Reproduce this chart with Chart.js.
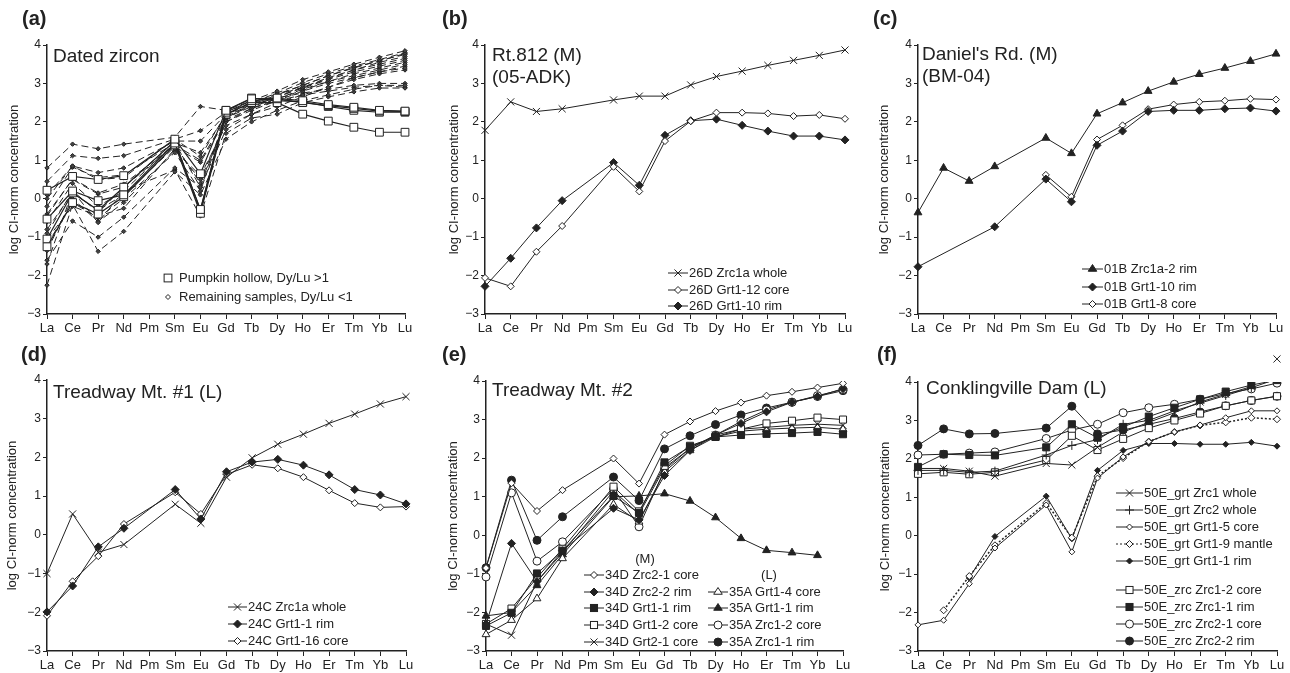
<!DOCTYPE html>
<html>
<head>
<meta charset="utf-8">
<script src="https://cdn.jsdelivr.net/npm/chart.js@4.4.0/dist/chart.umd.min.js"></script>
<style>
body { margin: 0; background: #fff; width: 1290px; height: 673px; position: relative; overflow: hidden;
       font-family: "Liberation Sans", Arial, Helvetica, sans-serif; color: #222; }
canvas { position: absolute; }
.lbl { position: absolute; font-weight: bold; font-size: 20px; line-height: 24px; }
.ttl { position: absolute; font-size: 19px; line-height: 22px; white-space: nowrap; }
.leg { position: absolute; display: flex; align-items: center; font-size: 13px; line-height: 16px; white-space: nowrap; }
.leg svg { flex: none; }
.hdr { position: absolute; font-size: 13px; line-height: 16px; transform: translateX(-50%); }
</style>
</head>
<body>
<canvas id="ca" width="430" height="336" style="left:0;top:0"></canvas>
<canvas id="cb" width="430" height="336" style="left:430px;top:0"></canvas>
<canvas id="cc" width="430" height="336" style="left:860px;top:0"></canvas>
<canvas id="cd" width="430" height="337" style="left:0;top:336px"></canvas>
<canvas id="ce" width="430" height="337" style="left:430px;top:336px"></canvas>
<canvas id="cf" width="430" height="337" style="left:860px;top:336px"></canvas>

<div class="lbl" style="left:22px;top:6px">(a)</div>
<div class="lbl" style="left:442px;top:6px">(b)</div>
<div class="lbl" style="left:873px;top:6px">(c)</div>
<div class="lbl" style="left:21px;top:342px">(d)</div>
<div class="lbl" style="left:442px;top:342px">(e)</div>
<div class="lbl" style="left:877px;top:342px">(f)</div>

<div class="ttl" style="left:53px;top:45px">Dated zircon</div>
<div class="ttl" style="left:492px;top:44px">Rt.812 (M)<br>(05-ADK)</div>
<div class="ttl" style="left:922px;top:43px">Daniel's Rd. (M)<br>(BM-04)</div>
<div class="ttl" style="left:53px;top:381px">Treadway Mt. #1 (L)</div>
<div class="ttl" style="left:492px;top:379px">Treadway Mt. #2</div>
<div class="ttl" style="left:926px;top:377px">Conklingville Dam (L)</div>

<script>
// chondrite-normalised REE, log units; Pm never measured
const elements = ['La', 'Ce', 'Pr', 'Nd', 'Pm', 'Sm', 'Eu', 'Gd', 'Tb', 'Dy', 'Ho', 'Er', 'Tm', 'Yb', 'Lu'];
const yMin = -3;
const yMax = 4;

// (a) dated zircon
const pumpkinHollow = [
  [0.22, 0.58, 0.50, 0.60, null, 1.55, 0.65, 2.30, 2.60, 2.62, 2.55, 2.45, 2.38, 2.30, 2.28],
  [-0.53, 0.20, -0.05, 0.10, null, 1.45, -0.28, 2.25, 2.55, 2.60, 2.50, 2.42, 2.35, 2.28, 2.27],
  [-1.25, -0.10, -0.40, 0.05, null, 1.40, -0.38, 2.20, 2.50, 2.50, 2.20, 2.02, 1.86, 1.73, 1.73],
  [-1.05, 0.15, -0.30, 0.30, null, 1.50, -0.30, 2.30, 2.62, 2.55, 2.52, 2.40, 2.30, 2.25, 2.25]
];
const remainingSamples = [
  [0.80, 1.42, 1.30, 1.42, null, 1.60, 2.40, 2.30, 2.55, 2.80, 3.10, 3.30, 3.50, 3.68, 3.85],
  [0.45, 1.12, 1.05, 1.12, null, 1.55, 1.77, 2.25, 2.50, 2.75, 3.02, 3.25, 3.45, 3.62, 3.80],
  [0.00, 0.85, 0.68, 0.80, null, 1.50, 1.50, 2.20, 2.45, 2.70, 2.95, 3.20, 3.40, 3.60, 3.75],
  [-0.20, 0.82, 0.55, 0.62, null, 1.45, 1.20, 2.15, 2.45, 2.70, 2.90, 3.15, 3.35, 3.55, 3.70],
  [-0.45, 0.52, 0.15, 0.38, null, 1.40, 1.00, 2.10, 2.40, 2.65, 2.88, 3.10, 3.30, 3.45, 3.60],
  [-0.80, 0.15, -0.30, 0.10, null, 1.35, 0.95, 2.05, 2.35, 2.60, 2.85, 3.05, 3.20, 3.35, 3.50],
  [-1.05, -0.20, -0.45, -0.25, null, 1.30, 0.50, 2.00, 2.35, 2.55, 2.80, 3.00, 3.15, 3.30, 3.40],
  [-1.60, -0.58, -1.00, -0.48, null, 0.80, 0.30, 1.80, 2.20, 2.50, 2.70, 2.90, 3.10, 3.25, 3.35],
  [-2.25, -0.15, -1.37, -0.85, null, 0.70, 0.10, 1.55, 2.00, 2.30, 2.55, 2.70, 2.85, 2.95, 2.95],
  [-1.70, 0.20, -0.62, 0.20, null, 0.75, -0.45, 1.70, 2.10, 2.20, 2.50, 2.65, 2.78, 2.88, 2.88],
  [-0.40, 0.50, 0.12, 0.30, null, 1.50, -0.35, 2.20, 2.50, 2.65, 2.90, 3.12, 3.35, 3.50, 3.65],
  [-0.60, 0.40, -0.20, 0.20, null, 1.45, 0.30, 2.15, 2.40, 2.60, 2.82, 3.05, 3.25, 3.40, 3.55],
  [-1.20, -0.10, -0.50, 0.00, null, 1.20, 0.20, 2.10, 2.45, 2.62, 2.75, 2.85, 2.95, 3.00, 3.00],
  [0.10, 0.85, 0.50, 0.55, null, 1.55, 1.10, 2.20, 2.50, 2.72, 2.95, 3.20, 3.42, 3.58, 3.78],
  [-0.90, 0.20, -0.35, 0.30, null, 1.40, 0.40, 2.00, 2.30, 2.55, 2.70, 2.80, 2.90, 2.95, 2.90],
  [-1.35, 0.00, -0.60, -0.10, null, 1.25, 0.60, 1.90, 2.20, 2.40, 2.65, 2.90, 3.15, 3.30, 3.45]
];

// (b) Rt.812
const b_zrc1aWhole = [1.78, 2.52, 2.27, 2.34, null, 2.57, 2.67, 2.67, 2.96, 3.18, 3.32, 3.47, 3.60, 3.73, 3.87];
const b_grt12Core = [-2.06, -2.28, -1.38, -0.71, null, 0.83, 0.19, 1.50, 2.02, 2.24, 2.24, 2.22, 2.15, 2.18, 2.08];
const b_grt10Rim = [-2.28, -1.55, -0.76, -0.05, null, 0.94, 0.35, 1.65, 2.03, 2.07, 1.91, 1.76, 1.63, 1.63, 1.53];

// (c) Daniel's Rd.
const c_zrc1a2Rim = [-0.36, 0.80, 0.46, 0.84, null, 1.58, 1.18, 2.21, 2.50, 2.80, 3.04, 3.24, 3.40, 3.58, 3.77];
const c_grt10Rim = [-1.77, null, null, -0.73, null, 0.51, -0.08, 1.39, 1.76, 2.27, 2.30, 2.30, 2.34, 2.36, 2.28];
const c_grt8Core = [null, null, null, null, null, 0.62, 0.05, 1.54, 1.91, 2.33, 2.45, 2.52, 2.55, 2.60, 2.58];

// (d) Treadway Mt. #1
const d_zrc1aWhole = [-1.00, 0.54, -0.45, -0.25, null, 0.79, 0.30, 1.49, 1.99, 2.34, 2.60, 2.88, 3.12, 3.38, 3.57];
const d_grt1Rim = [-1.99, -1.32, -0.31, 0.17, null, 1.17, 0.41, 1.63, 1.88, 1.95, 1.80, 1.55, 1.17, 1.03, 0.80];
const d_grt16Core = [-2.09, -1.20, -0.55, 0.28, null, 1.10, 0.54, 1.56, 1.81, 1.72, 1.49, 1.15, 0.82, 0.71, 0.73];

// (e) Treadway Mt. #2
const e_34zrc21Core = [-0.85, 1.35, 0.63, 1.17, null, 1.99, 1.34, 2.61, 2.95, 3.22, 3.44, 3.62, 3.72, 3.83, 3.94];
const e_34zrc22Rim = [-2.30, -0.21, -1.20, -0.40, null, 0.70, 0.40, 1.55, 2.20, 2.60, 2.90, 3.20, 3.45, 3.60, 3.80];
const e_34grt11Rim = [-2.35, -2.01, -0.99, -0.40, null, 1.02, 0.58, 1.89, 2.30, 2.55, 2.60, 2.63, 2.65, 2.68, 2.62];
const e_34grt12Core = [-2.30, -1.90, -1.10, -0.35, null, 1.26, 0.62, 1.80, 2.32, 2.55, 2.75, 2.90, 2.97, 3.05, 3.00];
const e_34grt21Core = [-2.30, -2.59, -1.20, -0.45, null, 1.15, 0.55, 1.75, 2.25, 2.60, 2.75, 2.80, 2.85, 2.88, 2.85];
const e_35grt14Core = [-2.57, -2.20, -1.64, -0.60, null, 0.80, 0.35, 1.65, 2.20, 2.55, 2.70, 2.75, 2.78, 2.80, 2.75];
const e_35grt11Rim = [-2.09, -2.00, -1.30, -0.50, null, 1.00, 1.02, 1.08, 0.89, 0.46, -0.08, -0.39, -0.45, -0.52, null];
const e_35zrc12Core = [-1.08, 1.10, -0.67, -0.17, null, 1.20, 0.22, 1.70, 2.25, 2.60, 2.95, 3.25, 3.45, 3.62, 3.78];
const e_35zrc11Rim = [-0.84, 1.43, -0.13, 0.48, null, 1.51, 0.90, 2.24, 2.58, 2.87, 3.12, 3.30, 3.45, 3.60, 3.75];

// (f) Conklingville Dam
const f_grtZrc1Whole = [1.75, 1.75, 1.68, 1.55, null, 1.88, 1.84, 2.30, 2.70, 2.95, 3.20, 3.48, 3.68, 3.88, 4.60];
const f_grtZrc2Whole = [1.70, 1.70, 1.65, 1.68, null, 2.10, 2.35, 2.50, 2.90, 3.00, 3.25, 3.45, 3.65, 3.85, 4.08];
const f_grtGrt15Core = [-2.32, -2.20, -1.25, -0.32, null, 0.80, -0.42, 1.50, 2.05, 2.45, 2.70, 2.88, 3.07, 3.25, 3.25];
const f_grtGrt19Mantle = [null, -1.94, -1.05, -0.25, null, 0.85, -0.05, 1.55, 2.02, 2.45, 2.70, 2.87, 2.95, 3.07, 3.03];
const f_grtGrt11Rim = [null, null, -1.10, -0.02, null, 1.03, -0.08, 1.70, 2.22, 2.40, 2.40, 2.38, 2.38, 2.43, 2.33];
const f_zrcZrc12Core = [1.61, 1.65, 1.60, 1.65, null, 1.97, 2.60, 2.23, 2.52, 2.80, 3.00, 3.18, 3.38, 3.52, 3.63];
const f_zrcZrc11Rim = [1.79, 2.12, 2.10, 2.09, null, 2.30, 2.90, 2.55, 2.83, 3.10, 3.33, 3.55, 3.75, 3.92, 4.05];
const f_zrcZrc21Core = [2.10, 2.12, 2.15, 2.18, null, 2.53, 2.75, 2.90, 3.20, 3.33, 3.42, 3.55, 3.70, 3.82, 3.97];
const f_zrcZrc22Rim = [2.35, 2.78, 2.65, 2.66, null, 2.80, 3.37, 2.65, 2.75, 2.90, 3.05, 3.22, 3.38, 3.52, 3.63];

const INK = '#222';

// marker presets
const openDiamond = { pointStyle: 'rectRot', pointRadius: 3.5, pointBackgroundColor: '#fff' };
const fillDiamond = { pointStyle: 'rectRot', pointRadius: 4, pointBackgroundColor: INK };
const smallDiamond = { pointStyle: 'rectRot', pointRadius: 3, pointBackgroundColor: '#fff' };
const smallFillDiamond = { pointStyle: 'rectRot', pointRadius: 3, pointBackgroundColor: INK };
const xMark = { pointStyle: 'crossRot', pointRadius: 5, pointBackgroundColor: INK };
const plusMark = { pointStyle: 'cross', pointRadius: 4.5, pointBackgroundColor: INK };
const openSquare = { pointStyle: 'rect', pointRadius: 5, pointBackgroundColor: '#fff' };
const fillSquare = { pointStyle: 'rect', pointRadius: 5, pointBackgroundColor: INK };
const openTri = { pointStyle: 'triangle', pointRadius: 4.5, pointBackgroundColor: '#fff' };
const fillTri = { pointStyle: 'triangle', pointRadius: 4.5, pointBackgroundColor: INK };
const openCircle = { pointStyle: 'circle', pointRadius: 4, pointBackgroundColor: '#fff' };
const fillCircle = { pointStyle: 'circle', pointRadius: 4, pointBackgroundColor: INK };

function series(label, data, marker, extra) {
  return Object.assign({
    label: label,
    data: data,
    borderColor: INK,
    borderWidth: 1,
    pointBorderColor: INK,
    pointBorderWidth: 1,
    spanGaps: true,
    tension: 0
  }, marker, extra || {});
}

// Chart.js skips points outside the plot area; draw flagged ones anyway
const offScalePoints = {
  id: 'offScalePoints',
  afterDatasetsDraw(chart) {
    const ctx = chart.ctx;
    const ys = chart.scales.y;
    chart.data.datasets.forEach((ds, i) => {
      if (!ds.showOffScale) return;
      const meta = chart.getDatasetMeta(i);
      meta.data.forEach((pt, j) => {
        const v = ds.data[j];
        if (v == null || v <= ys.max) return;
        ctx.save();
        ctx.strokeStyle = ds.pointBorderColor;
        ctx.fillStyle = ds.pointBackgroundColor;
        ctx.lineWidth = 1;
        Chart.helpers.drawPoint(ctx, { pointStyle: ds.pointStyle, radius: ds.pointRadius, rotation: 0, borderWidth: 1 },
          pt.x, ys.getPixelForValue(v));
        ctx.restore();
      });
    });
  }
};

function makeChart(id, datasets, axisW, padRight, padTop, titleOff) {
  return new Chart(document.getElementById(id), {
    type: 'line',
    data: { labels: elements, datasets: datasets },
    plugins: [offScalePoints],
    options: {
      responsive: false,
      animation: false,
      layout: { padding: { left: 0, right: padRight, top: padTop, bottom: 0 } },
      plugins: { legend: { display: false }, tooltip: { enabled: false } },
      scales: {
        x: {
          offset: false,
          grid: { display: true, drawOnChartArea: false, drawTicks: true, tickLength: 5, color: INK, lineWidth: 1 },
          border: { display: true, color: INK, width: 1.5 },
          ticks: { autoSkip: false, maxRotation: 0, color: INK, padding: 2, font: { size: 13, family: '"Liberation Sans", Arial' } },
          afterFit: s => { s.height = 22; }
        },
        y: {
          min: yMin,
          max: yMax,
          grid: { display: true, drawOnChartArea: false, drawTicks: true, tickLength: 4, color: INK, lineWidth: 1 },
          border: { display: true, color: INK, width: 1.5 },
          ticks: {
            stepSize: 1, color: INK, padding: 2,
            font: { size: 12, family: '"Liberation Sans", Arial' },
            callback: v => (v < 0 ? '\u2212' + Math.abs(v) : String(v))
          },
          title: {
            display: true, text: 'log CI-norm concentration', color: INK,
            font: { size: 13, family: '"Liberation Sans", Arial' },
            padding: { top: titleOff, bottom: 0 }
          },
          afterFit: s => { s.width = axisW; }
        }
      }
    }
  });
}

// ---------- (a)
const aSets = [];
pumpkinHollow.forEach((d, i) => aSets.push(series('Pumpkin hollow ' + (i + 1), d,
  { pointStyle: 'rect', pointRadius: 5.5, pointBackgroundColor: '#fff' }, { borderWidth: 1.2 })));
remainingSamples.forEach((d, i) => aSets.push(series('Remaining ' + (i + 1), d,
  { pointStyle: 'rectRot', pointRadius: 2.2, pointBackgroundColor: '#444' }, { borderDash: [7, 4] })));
makeChart('ca', aSets, 47, 25, 45, 7);

// ---------- (b)
const bSets = [
  series('26D Zrc1a whole', b_zrc1aWhole, xMark),
  series('26D Grt1-12 core', b_grt12Core, openDiamond),
  series('26D Grt1-10 rim', b_grt10Rim, fillDiamond)
];
makeChart('cb', bSets, 55, 15, 45, 17);

// ---------- (c)
const cSets = [
  series('01B Zrc1a-2 rim', c_zrc1a2Rim, fillTri),
  series('01B Grt1-10 rim', c_grt10Rim, fillDiamond),
  series('01B Grt1-8 core', c_grt8Core, openDiamond)
];
makeChart('cc', cSets, 58, 14, 45, 17);

// ---------- (d)
const dSets = [
  series('24C Zrc1a whole', d_zrc1aWhole, xMark),
  series('24C Grt1-1 rim', d_grt1Rim, fillDiamond),
  series('24C Grt1-16 core', d_grt16Core, openDiamond)
];
makeChart('cd', dSets, 47, 24, 44, 5);

// ---------- (e)
const eSetsM = [
  series('34D Zrc2-1 core', e_34zrc21Core, openDiamond),
  series('34D Zrc2-2 rim', e_34zrc22Rim, fillDiamond),
  series('34D Grt1-1 rim', e_34grt11Rim, fillSquare),
  series('34D Grt1-2 core', e_34grt12Core, openSquare),
  series('34D Grt2-1 core', e_34grt21Core, xMark)
];
const eSetsL = [
  series('35A Grt1-4 core', e_35grt14Core, openTri),
  series('35A Grt1-1 rim', e_35grt11Rim, fillTri),
  series('35A Zrc1-2 core', e_35zrc12Core, openCircle),
  series('35A Zrc1-1 rim', e_35zrc11Rim, fillCircle)
];
makeChart('ce', eSetsM.concat(eSetsL), 56, 17, 45, 16);

// ---------- (f)
const fSetsGrt = [
  series('50E_grt Zrc1 whole', f_grtZrc1Whole, xMark, {
    showOffScale: true,
    // Lu value lies above the axis: only its symbol is shown
    segment: { borderColor: c => (c.p1DataIndex === elements.length - 1 ? 'rgba(0,0,0,0)' : undefined) }
  }),
  series('50E_grt Zrc2 whole', f_grtZrc2Whole, plusMark),
  series('50E_grt Grt1-5 core', f_grtGrt15Core, smallDiamond),
  series('50E_grt Grt1-9 mantle', f_grtGrt19Mantle, openDiamond, { borderDash: [2, 2], borderWidth: 1.5 }),
  series('50E_grt Grt1-1 rim', f_grtGrt11Rim, smallFillDiamond)
];
const fSetsZrc = [
  series('50E_zrc Zrc1-2 core', f_zrcZrc12Core, openSquare),
  series('50E_zrc Zrc1-1 rim', f_zrcZrc11Rim, fillSquare),
  series('50E_zrc Zrc2-1 core', f_zrcZrc21Core, openCircle),
  series('50E_zrc Zrc2-2 rim', f_zrcZrc22Rim, fillCircle)
];
makeChart('cf', fSetsGrt.concat(fSetsZrc), 58, 13, 46, 18);

// ---------- legends (html, symbols copied from dataset styles)
function markerSvg(ds, cx, cy) {
  const r = ds.pointRadius;
  const f = ds.pointBackgroundColor;
  const st = 'stroke="' + INK + '" stroke-width="1"';
  switch (ds.pointStyle) {
    case 'rect': {
      const h = r * Math.SQRT1_2;
      return `<rect x="${cx - h}" y="${cy - h}" width="${2 * h}" height="${2 * h}" fill="${f}" ${st}/>`;
    }
    case 'rectRot':
      return `<polygon points="${cx},${cy - r} ${cx + r},${cy} ${cx},${cy + r} ${cx - r},${cy}" fill="${f}" ${st}/>`;
    case 'triangle': {
      const h = r * 1.5;
      return `<polygon points="${cx},${cy - r} ${cx + r * 0.95},${cy + h - r} ${cx - r * 0.95},${cy + h - r}" fill="${f}" ${st}/>`;
    }
    case 'circle':
      return `<circle cx="${cx}" cy="${cy}" r="${r}" fill="${f}" ${st}/>`;
    case 'crossRot': {
      const h = r * Math.SQRT1_2;
      return `<path d="M${cx - h} ${cy - h}L${cx + h} ${cy + h}M${cx - h} ${cy + h}L${cx + h} ${cy - h}" ${st}/>`;
    }
    case 'cross':
      return `<path d="M${cx - r} ${cy}L${cx + r} ${cy}M${cx} ${cy - r}L${cx} ${cy + r}" ${st}/>`;
  }
  return '';
}

function addLegend(sets, left, centers, lineLen, noLine, labels) {
  sets.forEach((ds, i) => {
    const row = document.createElement('div');
    row.className = 'leg';
    row.style.left = left + 'px';
    row.style.top = (centers[i] - 8) + 'px';
    let svg = `<svg width="${lineLen + 1}" height="16">`;
    if (!noLine) {
      const dash = ds.borderDash ? `stroke-dasharray="${ds.borderDash.join(' ')}"` : '';
      svg += `<line x1="0" y1="8" x2="${lineLen}" y2="8" stroke="${INK}" stroke-width="1" ${dash}/>`;
    }
    svg += markerSvg(ds, lineLen / 2, 8) + '</svg>';
    row.innerHTML = svg + '<span style="margin-left:' + (noLine ? 4 : 0) + 'px">' + (labels ? labels[i] : ds.label) + '</span>';
    document.body.appendChild(row);
  });
}

function addHeader(text, cx, cy) {
  const h = document.createElement('div');
  h.className = 'hdr';
  h.style.left = cx + 'px';
  h.style.top = (cy - 8) + 'px';
  h.textContent = text;
  document.body.appendChild(h);
}

addLegend([aSets[0], { pointStyle: 'rectRot', pointRadius: 2.5, pointBackgroundColor: '#fff' }], 162, [278, 297], 12, true,
  ['Pumpkin hollow, Dy/Lu >1', 'Remaining samples, Dy/Lu <1']);
addLegend(bSets, 668, [273, 290, 306], 20);
addLegend(cSets, 1082, [269, 287, 304], 21);
addLegend(dSets, 228, [607, 624, 641], 19);
addHeader('(M)', 645, 559);
addHeader('(L)', 769, 575);
addLegend(eSetsM, 584, [575, 592, 608, 625, 642], 20);
addLegend(eSetsL, 708, [592, 608, 625, 642], 20);
addLegend(fSetsGrt, 1116, [493, 510, 527, 544, 561], 27);
addLegend(fSetsZrc, 1116, [590, 607, 624, 641], 27);
</script>
</body>
</html>
